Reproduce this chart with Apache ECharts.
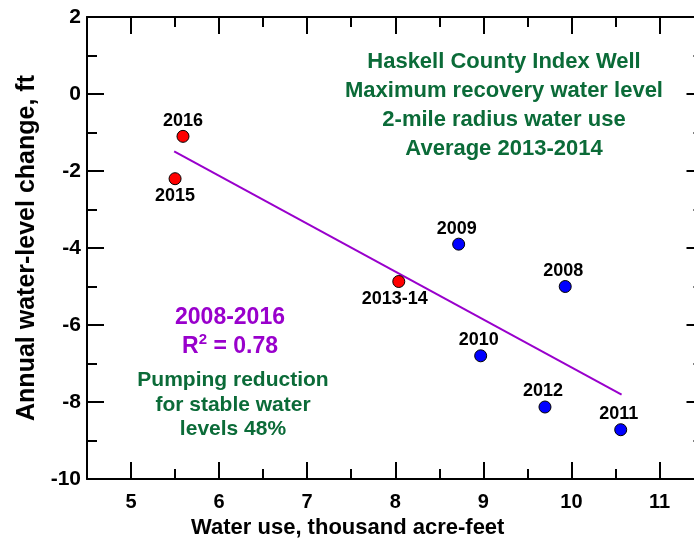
<!DOCTYPE html>
<html>
<head>
<meta charset="utf-8">
<script src="https://cdn.jsdelivr.net/npm/echarts@6/dist/echarts.min.js"></script>
<style>
  html, body { margin: 0; padding: 0; background: #fff; }
  #chart { width: 694px; height: 538px; }
</style>
</head>
<body>
<div id="chart"></div>
<script>
// Annual water-level change vs. 2-mile radius water use, Haskell County index well
const blueYears = ['2008', '2009', '2010', '2011', '2012'];
const blueUse = [9.93, 8.72, 8.97, 10.56, 9.70];
const blueChange = [-5.0, -3.9, -6.8, -8.72, -8.13];

const redYears = ['2013-14', '2015', '2016'];
const redUse = [8.04, 5.50, 5.59];
const redChange = [-4.87, -2.2, -1.1];

// Least-squares trend, 2008-2016
const trendUse = [5.49, 10.57];
const trendChange = [-1.49, -7.81];

const xMajorTicks = [5, 6, 7, 8, 9, 10, 11];
const xMinorTicks = [5.5, 6.5, 7.5, 8.5, 9.5, 10.5];

const FONT = '"Liberation Sans", Arial, sans-serif';
const GREEN = '#0b6b38';
const PURPLE = '#9900cc';

const chart = echarts.init(document.getElementById('chart'), null, { renderer: 'canvas' });

const lineStyle = { color: '#000', width: 2 };

function xAxisDef(position, ticks, len, withLabels, withLine) {
  return {
    type: 'value', position: position, min: 4.5, max: 11.5,
    axisLine: { show: withLine, onZero: false, lineStyle: lineStyle },
    axisTick: { show: true, inside: true, length: len, customValues: ticks, lineStyle: lineStyle },
    axisLabel: withLabels ? {
      show: true, customValues: ticks, margin: 13,
      fontFamily: FONT, fontWeight: 'bold', fontSize: 20, color: '#000'
    } : { show: false },
    splitLine: { show: false },
    name: withLabels ? 'Water use, thousand acre-feet' : '',
    nameLocation: 'middle', nameGap: 12,
    nameTextStyle: {
      fontFamily: FONT, fontWeight: 'bold', fontSize: 22, color: '#000',
      padding: [0, 95, 0, 0]
    }
  };
}

function yAxisDef(position, withLabels) {
  return {
    type: 'value', position: position, min: -10, max: 2, interval: 2,
    axisLine: { show: true, onZero: false, lineStyle: lineStyle },
    axisTick: { show: true, inside: true, length: 17, lineStyle: lineStyle },
    minorTick: { show: true, splitNumber: 2, length: 10, lineStyle: lineStyle },
    axisLabel: withLabels ? {
      show: true, margin: 6,
      fontFamily: FONT, fontWeight: 'bold', fontSize: 21, color: '#000'
    } : { show: false },
    splitLine: { show: false },
    minorSplitLine: { show: false },
    name: withLabels ? 'Annual water-level change, ft' : '',
    nameLocation: 'middle', nameGap: 47,
    nameTextStyle: { fontFamily: FONT, fontWeight: 'bold', fontSize: 25, color: '#000' }
  };
}

const pointLabel = (pos, offset) => ({
  show: true, position: pos, distance: 0, offset: offset,
  fontFamily: FONT, fontWeight: 'bold', fontSize: 18, color: '#000',
  formatter: p => p.value[2]
});

const option = {
  backgroundColor: '#fff',
  animation: false,
  grid: { left: 87, top: 17, bottom: 59, right: -9.5, containLabel: false, outerBoundsMode: 'none' },
  xAxis: [
    xAxisDef('bottom', xMajorTicks, 17, true, true),
    xAxisDef('bottom', xMinorTicks, 10, false, false),
    xAxisDef('top', xMajorTicks, 17, false, true),
    xAxisDef('top', xMinorTicks, 10, false, false)
  ],
  yAxis: [yAxisDef('left', true), yAxisDef('right', false)],
  title: [
    {
      text: 'Haskell County Index Well\nMaximum recovery water level\n2-mile radius water use\nAverage 2013-2014',
      left: 499, top: 42, textAlign: 'center',
      textStyle: { fontFamily: FONT, fontWeight: 'bold', fontSize: 22, lineHeight: 29, color: GREEN }
    },
    {
      text: '{t|2008-2016}\n{t|R}{s|2}{t| = 0.78}',
      left: 225, top: 298, textAlign: 'center',
      textStyle: {
        rich: {
          t: { fontFamily: FONT, fontWeight: 'bold', fontSize: 23, lineHeight: 29, color: PURPLE },
          s: { fontFamily: FONT, fontWeight: 'bold', fontSize: 15, lineHeight: 29, color: PURPLE, verticalAlign: 'top', padding: [0, 0, 10, 0] }
        }
      }
    },
    {
      text: 'Pumping reduction\nfor stable water\nlevels 48%',
      left: 228, top: 363, textAlign: 'center',
      textStyle: { fontFamily: FONT, fontWeight: 'bold', fontSize: 21, lineHeight: 24.5, color: GREEN }
    }
  ],
  series: [
    {
      type: 'line', xAxisIndex: 0, yAxisIndex: 0,
      data: trendUse.map((x, i) => [x, trendChange[i]]),
      showSymbol: false, symbol: 'none',
      lineStyle: { color: PURPLE, width: 2 }, z: 2
    },
    {
      type: 'scatter', xAxisIndex: 0, yAxisIndex: 0,
      symbol: 'circle', symbolSize: 12,
      itemStyle: { color: '#0000ff', borderColor: '#000', borderWidth: 1, opacity: 1 },
      data: blueUse.map((x, i) => [x, blueChange[i], blueYears[i]]),
      label: pointLabel('top', [-2, 0]), z: 3
    },
    {
      type: 'scatter', xAxisIndex: 0, yAxisIndex: 0,
      symbol: 'circle', symbolSize: 12,
      itemStyle: { color: '#ff0000', borderColor: '#000', borderWidth: 1, opacity: 1 },
      data: redUse.map((x, i) => {
        const below = redYears[i] !== '2016';
        return {
          value: [x, redChange[i], redYears[i]],
          label: {
            position: below ? 'bottom' : 'top',
            distance: below ? 2 : 0,
            offset: redYears[i] === '2013-14' ? [-4, 0] : [0, 0]
          }
        };
      }),
      label: pointLabel('top', [0, 0]), z: 3
    }
  ]
};

chart.setOption(option);
</script>
</body>
</html>
